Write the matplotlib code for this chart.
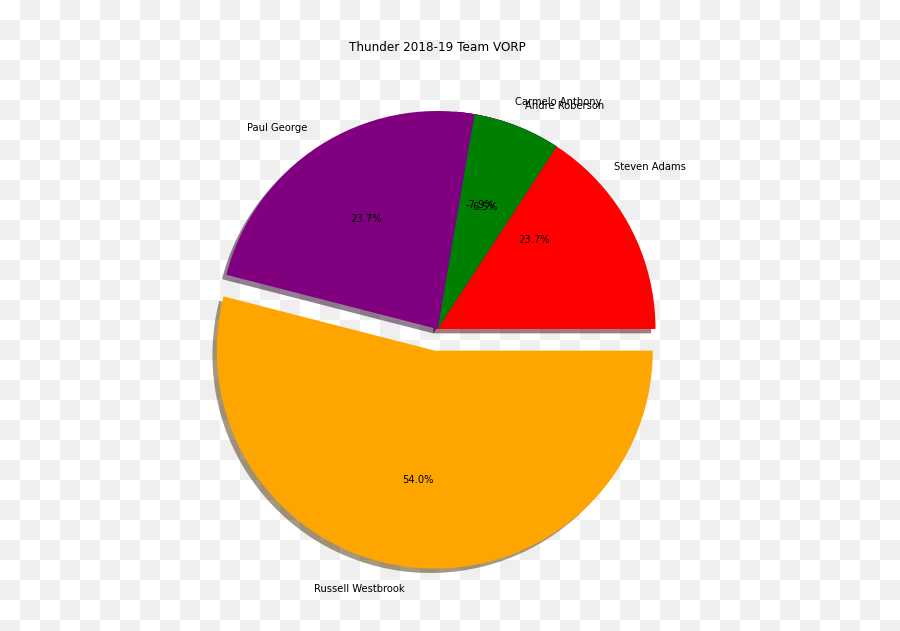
import matplotlib
matplotlib.use('Agg')
import matplotlib.pyplot as plt
import matplotlib.patches as mpatches
from matplotlib.colors import ListedColormap
import numpy as np

# VORP shares per player (wedge order as in the original pie)
players = ['Steven Adams', 'Carmelo Anthony', 'Andre Roberson', 'Paul George', 'Russell Westbrook']
vorp = [23.7, -7.9, 6.5, 23.7, 54.0]
colors = ['red', 'blue', 'green', 'purple', 'orange']
explode = [0, 0, 0, 0, 0.1]

fig = plt.figure(figsize=(900 / 72, 631 / 72), dpi=72)

# checkerboard backdrop (transparent png look)
bg = fig.add_axes([0, 0, 1, 1], zorder=-10)
yy, xx = np.mgrid[0:631, 0:900]
checker = ((xx // 20 + yy // 20) % 2).astype(float)
bg.imshow(checker, cmap=ListedColormap(['white', '#efefef']),
          interpolation='nearest', aspect='auto')
bg.axis('off')

ax = fig.add_axes([0.18333, 0.04675, 0.60556, 0.86371])
ax.patch.set_visible(False)

# old-style pie: negative sizes allowed, wedge drawn between min/max angle
total = sum(vorp)
theta1 = 0.0
for name, v, c, ex in zip(players, vorp, colors, explode):
    frac = v / total
    theta2 = theta1 + frac
    thetam = np.pi * (theta1 + theta2)
    x = ex * np.cos(thetam)
    y = ex * np.sin(thetam)
    w = mpatches.Wedge((x, y), 1, 360 * min(theta1, theta2), 360 * max(theta1, theta2),
                       facecolor=c, linewidth=0)
    ax.add_patch(w)
    shadow = mpatches.Shadow(w, -0.02, -0.02)
    shadow.set_zorder(0.9 * w.get_zorder())
    ax.add_patch(shadow)

    xt = x + 1.1 * np.cos(thetam)
    yt = y + 1.1 * np.sin(thetam)
    ax.text(xt, yt, name, ha='left' if xt > 0 else 'right', va='center', fontsize=10)
    ax.text(x + 0.6 * np.cos(thetam), y + 0.6 * np.sin(thetam), '%1.1f%%' % (100 * frac),
            ha='center', va='center', fontsize=10)
    theta1 = theta2

ax.set_xlim(-1.25, 1.25)
ax.set_ylim(-1.25, 1.25)
ax.set_xticks([])
ax.set_yticks([])
ax.set_frame_on(False)
ax.set_title('Thunder 2018-19 Team VORP', fontsize=12, pad=5)

fig.savefig('out.png', dpi=72)
